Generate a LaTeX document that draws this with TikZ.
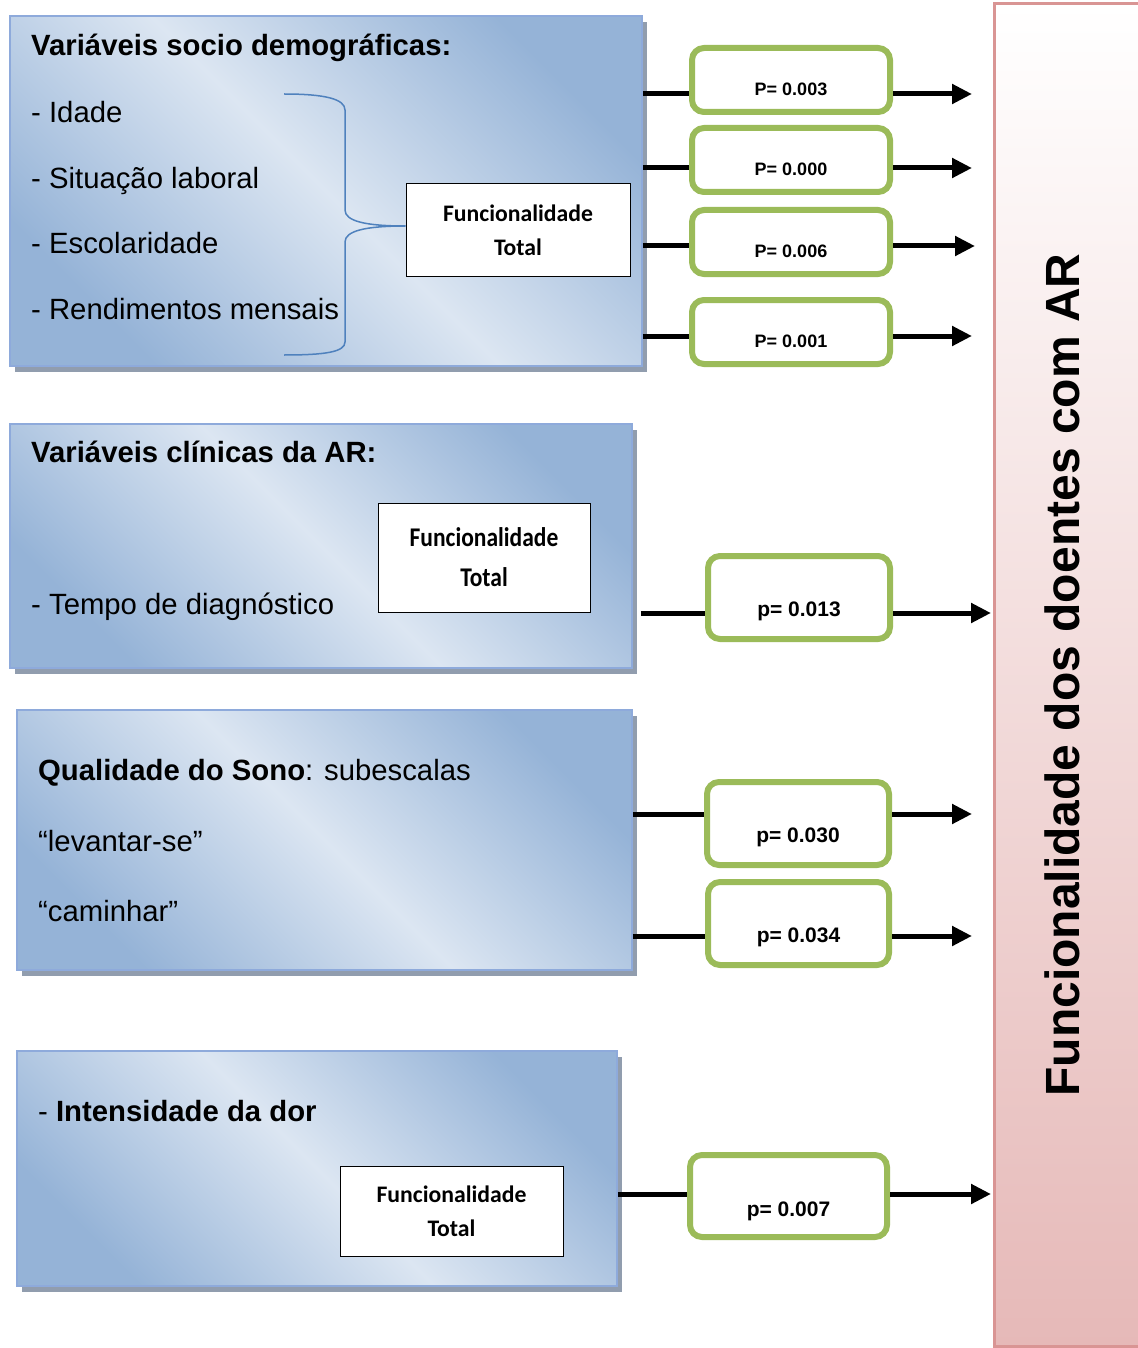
\documentclass[tikz,border=0pt]{standalone}
\usepackage{fontspec}
\setmainfont{Liberation Sans}
\newfontfamily\carlito{Carlito}
\usetikzlibrary{arrows.meta,shadows}
\definecolor{bdark}{HTML}{95B3D7}
\definecolor{blight}{HTML}{DCE6F2}
\definecolor{bborder}{HTML}{8EAADB}
\definecolor{shgray}{HTML}{919DAE}
\definecolor{pborder}{HTML}{D99594}
\definecolor{pfill}{HTML}{E6B9B8}
\definecolor{gborder}{HTML}{9BBB59}
\definecolor{braceblue}{HTML}{4F81BD}
\pgfdeclarehorizontalshading{bluediag}{100bp}{color(0bp)=(bdark); color(25bp)=(bdark); color(50bp)=(blight); color(75bp)=(bdark); color(100bp)=(bdark)}
\pgfdeclareverticalshading{pinkv}{100bp}{color(0bp)=(pfill); color(25bp)=(pfill); color(75bp)=(white); color(100bp)=(white)}
\begin{document}
\begin{tikzpicture}[x=1pt,y=-1pt,
 panel/.style={draw=bborder, line width=1.5pt, shading=bluediag, shading angle=45, inner sep=0pt,
   drop shadow={shadow xshift=5pt, shadow yshift=-6pt, fill=shgray, opacity=1}},
 ftbox/.style={draw=black, line width=1pt, fill=white, inner sep=0pt, align=center,
   font=\carlito\bfseries\fontsize{23.7}{34}\selectfont},
 pbox/.style={draw=gborder, line width=6pt, rounded corners=12pt, fill=white, inner sep=0pt},
 lab/.style={font=\bfseries\fontsize{18}{20}\selectfont, inner sep=0pt},
 labb/.style={font=\bfseries\fontsize{21}{24}\selectfont, inner sep=0pt},
 conn/.style={line width=5pt},
 arr/.style={line width=5pt, -{Triangle[length=20pt,width=19pt]}},
 txt/.style={anchor=base west, font=\fontsize{29.3}{34}\selectfont, inner sep=0pt},
 htxt/.style={anchor=base west, font=\bfseries\fontsize{29.3}{34}\selectfont, inner sep=0pt},
 brace/.style={draw=braceblue, line width=1.5pt}
]
\useasboundingbox (0,0) rectangle (1137,1348);

% pink target box
\node[draw=pborder, line width=3pt, shading=pinkv, inner sep=0pt,
      minimum width=151pt, minimum height=1342pt] (pk) at (1069.5,675) {};
\node[rotate=90, font=\bfseries\fontsize{48}{56}\selectfont] (title) at (1062,675) {Funcionalidade dos doentes com AR};

% blue panels
\node[panel, minimum width=632pt, minimum height=350pt] (b1) at (326,191) {};
\node[panel, minimum width=622pt, minimum height=244pt] (b2) at (321,546) {};
\node[panel, minimum width=615pt, minimum height=260pt] (b3) at (324.5,840) {};
\node[panel, minimum width=600pt, minimum height=235pt] (b4) at (317,1168.5) {};

% panel 1 texts
\node[htxt] (t11) at (31,56) {Variáveis socio demográficas:};
\node[txt] (t12) at (31,122.5) {- Idade};
\node[txt] (t13) at (31,188.5) {- Situação laboral};
\node[txt] (t14) at (31,253.5) {- Escolaridade};
\node[txt] (t15) at (31,319.5) {- Rendimentos mensais};
\node[ftbox, minimum width=224pt, minimum height=92pt] (ft1) at (518,230) {Funcionalidade\\Total};
\draw[brace] (284,94) .. controls (325,94) and (345,99) .. (345,110) -- (345,210)
  .. controls (345,221) and (365,226) .. ([yshift=4pt]ft1.west)
  .. controls (365,226) and (345,231) .. (345,242) -- (345,342)
  .. controls (345,352) and (325,355) .. (284,355);

% panel 2 texts
\node[htxt] (t21) at (31,462.5) {Variáveis clínicas da AR:};
\node[txt] (t22) at (31,614.5) {- Tempo de diagnóstico};
\node[ftbox, minimum width=212pt, minimum height=109pt,
      font=\carlito\bfseries\fontsize{27}{40}\selectfont] (ft2) at (484,557.5)
      {\scalebox{0.87}[1]{Funcionalidade}\\\scalebox{0.87}[1]{Total}};

% panel 3 texts
\node[txt] (t31) at (38,780.5) {\textbf{Qualidade do Sono}: subescalas};
\node[txt] (t32) at (38,851) {“levantar-se”};
\node[txt] (t33) at (38,921) {“caminhar”};

% panel 4 texts
\node[txt] (t41) at (38,1121.5) {- \textbf{Intensidade da dor}};
\node[ftbox, minimum width=223pt, minimum height=90pt] (ft4) at (451.5,1211) {Funcionalidade\\Total};

% green p-value boxes
\node[pbox, minimum width=198pt, minimum height=64pt, label={[lab, yshift=-9pt]center:{P= 0.003}}] (g1) at (791,80) {};
\node[pbox, minimum width=198pt, minimum height=64pt, label={[lab, yshift=-9pt]center:{P= 0.000}}] (g2) at (791,160) {};
\node[pbox, minimum width=198pt, minimum height=64pt, label={[lab, yshift=-9pt]center:{P= 0.006}}] (g3) at (791,242) {};
\node[pbox, minimum width=198pt, minimum height=64pt, label={[lab, yshift=-9pt]center:{P= 0.001}}] (g4) at (791,332) {};
\node[pbox, minimum width=182pt, minimum height=83pt, label={[labb, yshift=-14pt]center:{p= 0.013}}] (g5) at (799,597.5) {};
\node[pbox, minimum width=182pt, minimum height=83pt, label={[labb, yshift=-14pt]center:{p= 0.030}}] (g6) at (798,823.5) {};
\node[pbox, minimum width=181pt, minimum height=83pt, label={[labb, yshift=-14pt]center:{p= 0.034}}] (g7) at (798.5,923.5) {};
\node[pbox, minimum width=197pt, minimum height=82pt, label={[labb, yshift=-15pt]center:{p= 0.007}}] (g8) at (788.5,1196) {};

% arrow end points
\coordinate (e1) at (972,94);
\coordinate (e2) at (972,168);
\coordinate (e3) at (975,246);
\coordinate (e4) at (972,336);
\coordinate (e5) at (991,613);
\coordinate (e6) at (972,814);
\coordinate (e7) at (972,936);
\coordinate (e8) at (991,1194);

% connectors
\draw[conn] (b1.east |- e1) -- (g1.west |- e1);
\draw[arr] (g1.east |- e1) -- (e1);
\draw[conn] (b1.east |- e2) -- (g2.west |- e2);
\draw[arr] (g2.east |- e2) -- (e2);
\draw[conn] (b1.east |- e3) -- (g3.west |- e3);
\draw[arr] (g3.east |- e3) -- (e3);
\draw[conn] (b1.east |- e4) -- (g4.west |- e4);
\draw[arr] (g4.east |- e4) -- (e4);
\draw[conn] ([xshift=8pt]b2.east |- e5) -- (g5.west |- e5);
\draw[arr] (g5.east |- e5) -- (e5);
\draw[conn] (b3.east |- e6) -- (g6.west |- e6);
\draw[arr] (g6.east |- e6) -- (e6);
\draw[conn] (b3.east |- e7) -- (g7.west |- e7);
\draw[arr] (g7.east |- e7) -- (e7);
\draw[conn] (b4.east |- e8) -- (g8.west |- e8);
\draw[arr] (g8.east |- e8) -- (e8);
\end{tikzpicture}
\end{document}
